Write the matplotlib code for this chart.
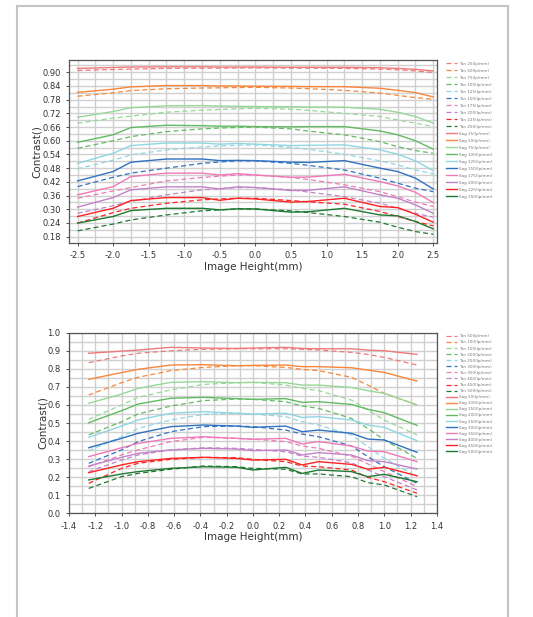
import numpy as np
import matplotlib.pyplot as plt
from matplotlib.lines import Line2D

# ---- data: top chart (25..250 lp/mm) ----
x_top = [-2.5, -2.0, -1.75, -1.25, -0.75, -0.5, -0.25, 0.0, 0.5, 0.75, 1.25, 1.75, 2.0, 2.25, 2.5]
freq_top = [25, 50, 75, 100, 125, 150, 175, 200, 225, 250]
tan_top = [
    [0.908, 0.912, 0.914, 0.917, 0.918, 0.918, 0.919, 0.919, 0.918, 0.918, 0.917, 0.914, 0.911, 0.906, 0.899],
    [0.795, 0.810, 0.820, 0.828, 0.831, 0.832, 0.833, 0.834, 0.831, 0.828, 0.821, 0.809, 0.799, 0.789, 0.782],
    [0.677, 0.699, 0.708, 0.725, 0.734, 0.737, 0.740, 0.742, 0.738, 0.733, 0.720, 0.706, 0.691, 0.677, 0.662],
    [0.567, 0.600, 0.618, 0.640, 0.652, 0.656, 0.658, 0.660, 0.652, 0.642, 0.626, 0.596, 0.574, 0.557, 0.545],
    [0.477, 0.515, 0.538, 0.560, 0.573, 0.577, 0.580, 0.582, 0.571, 0.562, 0.541, 0.512, 0.494, 0.472, 0.455],
    [0.399, 0.440, 0.458, 0.480, 0.501, 0.507, 0.512, 0.512, 0.501, 0.492, 0.472, 0.436, 0.414, 0.392, 0.377],
    [0.348, 0.380, 0.395, 0.424, 0.439, 0.445, 0.450, 0.450, 0.439, 0.430, 0.407, 0.377, 0.355, 0.331, 0.312],
    [0.282, 0.315, 0.334, 0.363, 0.385, 0.390, 0.395, 0.395, 0.385, 0.375, 0.355, 0.326, 0.304, 0.282, 0.265],
    [0.239, 0.285, 0.304, 0.326, 0.341, 0.345, 0.348, 0.348, 0.338, 0.332, 0.322, 0.290, 0.268, 0.246, 0.227],
    [0.205, 0.235, 0.253, 0.275, 0.293, 0.297, 0.301, 0.301, 0.293, 0.285, 0.268, 0.243, 0.221, 0.202, 0.190],
]
sag_top = [
    [0.917, 0.921, 0.923, 0.924, 0.924, 0.923, 0.923, 0.923, 0.922, 0.922, 0.922, 0.920, 0.917, 0.913, 0.906],
    [0.812, 0.826, 0.836, 0.842, 0.842, 0.840, 0.840, 0.839, 0.838, 0.837, 0.837, 0.830, 0.821, 0.811, 0.792],
    [0.703, 0.728, 0.745, 0.753, 0.754, 0.752, 0.751, 0.750, 0.749, 0.748, 0.747, 0.738, 0.725, 0.706, 0.677],
    [0.593, 0.626, 0.658, 0.668, 0.666, 0.664, 0.664, 0.662, 0.661, 0.662, 0.662, 0.643, 0.626, 0.600, 0.563],
    [0.501, 0.545, 0.579, 0.590, 0.590, 0.585, 0.588, 0.585, 0.579, 0.580, 0.582, 0.560, 0.541, 0.512, 0.469],
    [0.424, 0.465, 0.506, 0.520, 0.520, 0.513, 0.514, 0.513, 0.506, 0.505, 0.513, 0.480, 0.465, 0.436, 0.389],
    [0.363, 0.399, 0.443, 0.458, 0.458, 0.450, 0.456, 0.450, 0.440, 0.441, 0.453, 0.421, 0.402, 0.374, 0.329],
    [0.309, 0.351, 0.385, 0.398, 0.398, 0.389, 0.398, 0.395, 0.382, 0.383, 0.398, 0.363, 0.348, 0.319, 0.282],
    [0.268, 0.304, 0.338, 0.351, 0.351, 0.339, 0.348, 0.345, 0.331, 0.334, 0.348, 0.312, 0.307, 0.278, 0.243],
    [0.239, 0.268, 0.294, 0.304, 0.304, 0.297, 0.302, 0.301, 0.287, 0.289, 0.304, 0.275, 0.271, 0.246, 0.214],
]

# ---- data: bottom chart (50..500 lp/mm) ----
x_bot = [-1.25, -1.0, -0.875, -0.625, -0.375, -0.125, 0.0, 0.25, 0.375, 0.5, 0.75, 0.875, 1.0, 1.25]
freq_bot = [50, 100, 150, 200, 250, 300, 350, 400, 450, 500]
tan_bot = [
    [0.834, 0.871, 0.886, 0.900, 0.908, 0.911, 0.911, 0.911, 0.908, 0.904, 0.891, 0.880, 0.863, 0.821],
    [0.655, 0.723, 0.753, 0.790, 0.808, 0.817, 0.817, 0.808, 0.797, 0.790, 0.753, 0.710, 0.664, 0.600],
    [0.520, 0.600, 0.642, 0.683, 0.714, 0.723, 0.725, 0.710, 0.692, 0.679, 0.627, 0.572, 0.517, 0.434],
    [0.434, 0.507, 0.550, 0.594, 0.624, 0.633, 0.631, 0.618, 0.594, 0.581, 0.526, 0.470, 0.406, 0.304],
    [0.347, 0.424, 0.470, 0.517, 0.548, 0.554, 0.550, 0.535, 0.507, 0.489, 0.434, 0.369, 0.304, 0.203],
    [0.277, 0.351, 0.397, 0.452, 0.480, 0.483, 0.480, 0.461, 0.439, 0.424, 0.373, 0.314, 0.258, 0.166],
    [0.258, 0.323, 0.351, 0.397, 0.421, 0.415, 0.411, 0.397, 0.373, 0.360, 0.317, 0.273, 0.231, 0.148],
    [0.231, 0.295, 0.323, 0.351, 0.363, 0.360, 0.354, 0.341, 0.317, 0.310, 0.280, 0.240, 0.203, 0.129],
    [0.166, 0.249, 0.277, 0.299, 0.310, 0.308, 0.299, 0.286, 0.262, 0.258, 0.240, 0.199, 0.175, 0.111],
    [0.138, 0.203, 0.221, 0.244, 0.262, 0.258, 0.249, 0.244, 0.218, 0.218, 0.203, 0.170, 0.157, 0.092],
]
sag_bot = [
    [0.886, 0.898, 0.904, 0.919, 0.915, 0.913, 0.915, 0.919, 0.913, 0.911, 0.911, 0.904, 0.900, 0.880],
    [0.742, 0.779, 0.797, 0.821, 0.823, 0.817, 0.819, 0.821, 0.812, 0.812, 0.806, 0.793, 0.780, 0.732],
    [0.609, 0.660, 0.692, 0.725, 0.729, 0.723, 0.725, 0.723, 0.710, 0.710, 0.697, 0.679, 0.664, 0.600],
    [0.502, 0.568, 0.605, 0.637, 0.642, 0.635, 0.631, 0.635, 0.614, 0.618, 0.603, 0.576, 0.557, 0.487],
    [0.421, 0.483, 0.517, 0.554, 0.563, 0.554, 0.550, 0.554, 0.531, 0.535, 0.517, 0.489, 0.476, 0.402],
    [0.363, 0.415, 0.443, 0.480, 0.489, 0.483, 0.476, 0.483, 0.452, 0.461, 0.443, 0.411, 0.406, 0.338],
    [0.314, 0.363, 0.387, 0.415, 0.424, 0.415, 0.410, 0.415, 0.384, 0.397, 0.373, 0.345, 0.341, 0.286],
    [0.262, 0.310, 0.332, 0.351, 0.360, 0.356, 0.347, 0.351, 0.323, 0.336, 0.323, 0.292, 0.286, 0.245],
    [0.225, 0.268, 0.286, 0.304, 0.310, 0.304, 0.295, 0.299, 0.268, 0.286, 0.271, 0.244, 0.255, 0.208],
    [0.185, 0.218, 0.231, 0.249, 0.258, 0.255, 0.240, 0.255, 0.221, 0.240, 0.231, 0.203, 0.216, 0.175],
]

colors = ['#f07a7a', '#f7873a', '#96d896', '#62bb62', '#8fd6e2',
          '#2f72c2', '#f07ab8', '#c381c9', '#ff2222', '#1d7a30']


def draw_chart(ax, xs, freqs, tan, sag, spacing):
    for i, f in enumerate(freqs):
        ax.plot(xs, tan[i], color=colors[i], lw=0.9, ls=(0, (4, 2.5)),
                label=f'Tan {f}(lp/mm)')
    for i, f in enumerate(freqs):
        ax.plot(xs, sag[i], color=colors[i], lw=1.0, label=f'Sag {f}(lp/mm)')
    ax.grid(which='both', color='#d0d0d0', lw=1.0)
    ax.set_axisbelow(True)
    for s in ax.spines.values():
        s.set_color('#555555')
        s.set_linewidth(0.9)
    ax.tick_params(which='major', labelsize=6, colors='#333333', length=2.5, width=0.6)
    ax.tick_params(which='minor', length=0)
    ax.set_xlabel('Image Height(mm)', fontsize=7.5, color='#333333', labelpad=1)
    ax.set_ylabel('Contrast()', fontsize=7.5, color='#333333', labelpad=0)
    leg = ax.legend(loc='upper left', bbox_to_anchor=(1.02, 1.0), frameon=False,
                    fontsize=3.0, handlelength=2.6, handletextpad=0.6,
                    labelspacing=spacing, borderaxespad=0)
    for t in leg.get_texts():
        t.set_color('#777777')


fig = plt.figure(figsize=(5.33, 6.17), dpi=100)

ax1 = fig.add_axes([0.1295, 0.6062, 0.690, 0.2966])
draw_chart(ax1, x_top, freq_top, tan_top, sag_top, 0.72)
ax1.set_xlim(-2.62, 2.55)
ax1.set_ylim(0.152, 0.954)
xt = np.round(np.arange(-2.5, 2.51, 0.5), 2)
ax1.set_xticks(xt)
ax1.set_xticklabels([f'{v:.1f}' for v in xt])
ax1.set_xticks(np.round(np.arange(-2.5, 2.51, 0.25), 2), minor=True)
yt = np.round(np.arange(0.18, 0.91, 0.06), 2)
ax1.set_yticks(yt)
ax1.set_yticklabels([f'{v:.2f}' for v in yt])
ax1.set_yticks(np.round(np.arange(0.18, 0.95, 0.03), 3), minor=True)

ax2 = fig.add_axes([0.1295, 0.168, 0.690, 0.2928])
draw_chart(ax2, x_bot, freq_bot, tan_bot, sag_bot, 0.5)
ax2.set_xlim(-1.4, 1.4)
ax2.set_ylim(0.0, 1.0)
xt2 = np.round(np.arange(-1.4, 1.41, 0.2), 2)
ax2.set_xticks(xt2)
ax2.set_xticklabels([f'{v:.1f}' if abs(v) > 1e-9 else '0.0' for v in xt2])
ax2.set_xticks(np.round(np.arange(-1.4, 1.41, 0.1), 2), minor=True)
yt2 = np.round(np.arange(0.0, 1.01, 0.1), 2)
ax2.set_yticks(yt2)
ax2.set_yticklabels([f'{v:.1f}' for v in yt2])
ax2.set_yticks(np.round(np.arange(0.0, 1.01, 0.05), 3), minor=True)

# page border
bc = '#c4c4c4'
fig.add_artist(Line2D([0.031, 0.031], [0.0, 0.9895], color=bc, lw=1.5))
fig.add_artist(Line2D([0.031, 0.954], [0.9895, 0.9895], color=bc, lw=1.5))
fig.add_artist(Line2D([0.954, 0.954], [0.0, 0.9895], color=bc, lw=1.5))

fig.savefig('out.png', dpi=100)
